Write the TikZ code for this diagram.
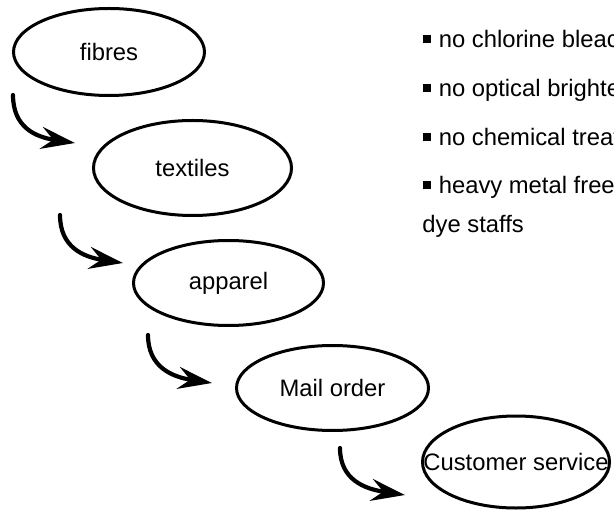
\documentclass[tikz,border=0pt]{standalone}
\usepackage{fontspec}
\setmainfont{Liberation Sans}
\usetikzlibrary{arrows.meta,shapes.geometric}
\newcommand{\sqbull}{\rule[2.3pt]{3.7pt}{4pt}\hspace{4pt}}

\begin{document}
\begin{tikzpicture}[x=0.5pt, y=-0.5pt,
    stage/.style={ellipse, draw, line width=1.5pt, inner sep=0pt,
                  minimum width=#1, font=\fontsize{11.9}{14}\selectfont},
    note/.style={anchor=base west, inner sep=0pt,
                 font=\fontsize{11.9}{14}\selectfont},
    flow/.style={-{Stealth[length=17pt, width=11pt, inset=6pt]},
                 line width=2.1pt, line cap=round}
  ]
  \useasboundingbox (0,0) rectangle (614,512);

  \node[stage=95.5pt, minimum height=43.5pt] (fibres)    at (109,52)    {\makebox[0pt]{fibres}};
  \node[stage=99pt,   minimum height=47.5pt] (textiles)  at (192.5,168) {\makebox[0pt]{textiles}};
  \node[stage=95pt,   minimum height=42.5pt] (apparel)   at (228.5,283) {\makebox[0pt]{apparel}};
  \node[stage=96pt,   minimum height=42.5pt] (mailorder) at (332.5,388) {\makebox[0pt]{Mail order}};
  \node[stage=93.5pt, minimum height=46pt]   (service)   at (516,462)   {\makebox[0pt]{Customer service}};

  \node[note] (n1) at (423,48)  {\sqbull no chlorine bleaching};
  \node[note] (n2) at (423,97)  {\sqbull no optical brighteners};
  \node[note] (n3) at (423,146) {\sqbull no chemical treatment};
  \node[note] (n4) at (423,194) {\sqbull heavy metal free};
  \node[note] (n5) at (422,233) {dye staffs};

  \coordinate (s1) at (13,95);   \coordinate (e1) at (75,143);
  \coordinate (s2) at (60,215);  \coordinate (e2) at (123,263);
  \coordinate (s3) at (148,335); \coordinate (e3) at (212,383);
  \coordinate (s4) at (340,448); \coordinate (e4) at (405,495);

  \draw[flow] (s1) .. controls +(0,32) and +(-40,-6) .. (e1);
  \draw[flow] (s2) .. controls +(0,32) and +(-40,-6) .. (e2);
  \draw[flow] (s3) .. controls +(0,32) and +(-40,-6) .. (e3);
  \draw[flow] (s4) .. controls +(0,32) and +(-40,-6) .. (e4);
\end{tikzpicture}
\end{document}
